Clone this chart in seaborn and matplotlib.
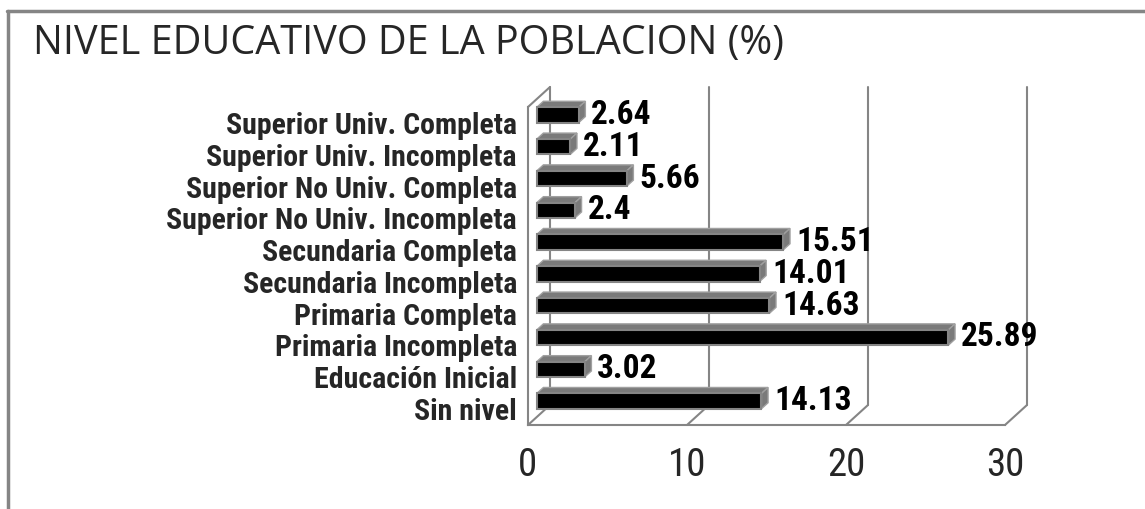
import matplotlib
matplotlib.use("Agg")
import matplotlib.pyplot as plt
import seaborn as sns
from matplotlib import font_manager
from matplotlib.patches import Polygon
from matplotlib.lines import Line2D

categorias = [
    "Superior Univ. Completa",
    "Superior Univ. Incompleta",
    "Superior No Univ. Completa",
    "Superior No Univ. Incompleta",
    "Secundaria Completa",
    "Secundaria Incompleta",
    "Primaria Completa",
    "Primaria Incompleta",
    "Educación Inicial",
    "Sin nivel",
]
porcentajes = [2.64, 2.11, 5.66, 2.4, 15.51, 14.01, 14.63, 25.89, 3.02, 14.13]
etiquetas = ["2.64", "2.11", "5.66", "2.4", "15.51", "14.01", "14.63", "25.89", "3.02", "14.13"]
xticks = [0, 10, 20, 30]
titulo = "NIVEL EDUCATIVO DE LA POBLACION (%)"


def pick_font(names):
    for name in names:
        try:
            font_manager.findfont(font_manager.FontProperties(family=name),
                                  fallback_to_default=False)
            return name
        except ValueError:
            pass
    return "DejaVu Sans"


narrow = pick_font(["Liberation Sans Narrow", "Roboto Condensed", "Liberation Sans"])
title_font = pick_font(["Open Sans", "Lato", "DejaVu Sans"])

sns.set_style("white")
GRAY = "#858585"

fig = plt.figure(figsize=(11.45, 5.09), dpi=100)
ax = fig.add_axes([528 / 1145, 84 / 509, 477 / 1145, 318 / 509])

sns.barplot(x=porcentajes, y=categorias, orient="h", color="black", saturation=1,
            width=0.48, edgecolor=GRAY, linewidth=1.5, ax=ax, zorder=3)
ax.set_xlim(0, 30)
ax.set_ylim(len(categorias) - 0.5, -0.5)

# depth vector of the 3d box, pixels -> data units
p0 = ax.transData.transform((0, 0))
ppx = ax.transData.transform((1, 0))[0] - p0[0]
ppy = ax.transData.transform((0, 1))[1] - p0[1]
DX = 22 / ppx
DY = 20 / ppy

ytop, ybot = -0.5, len(categorias) - 0.5

# back wall gridlines and floor diagonals
for x in xticks:
    ax.plot([x + DX, x + DX], [ybot + DY, ytop + DY], color=GRAY, lw=1.5,
            clip_on=False, zorder=1)
    ax.plot([x, x + DX], [ybot, ybot + DY], color=GRAY, lw=1.5, clip_on=False, zorder=1)
ax.plot([0, DX], [ytop, ytop + DY], color=GRAY, lw=1.5, clip_on=False, zorder=1)

# push bars into the box and give them top / side faces
f1, f2 = 0.4, 0.3
for p in ax.patches:
    p.set_x(p.get_x() + f1 * DX)
    p.set_y(p.get_y() + f1 * DY)
    x0, y0 = p.get_x(), p.get_y()
    x1, h = x0 + p.get_width(), p.get_height()
    ex, ey = f2 * DX, f2 * DY
    top = Polygon([(x0, y0), (x1, y0), (x1 + ex, y0 + ey), (x0 + ex, y0 + ey)],
                  closed=True, facecolor="#7a7a7a", edgecolor="#a0a0a0", lw=1,
                  clip_on=False, zorder=2)
    side = Polygon([(x1, y0), (x1, y0 + h), (x1 + ex, y0 + h + ey), (x1 + ex, y0 + ey)],
                   closed=True, facecolor="#7a7a7a", edgecolor="#a0a0a0", lw=1,
                   clip_on=False, zorder=2)
    ax.add_patch(top)
    ax.add_patch(side)
    p.set_clip_on(False)

ax.bar_label(ax.containers[0], labels=etiquetas, padding=9, fontsize=24,
             fontweight="bold", family=narrow, color="black")

# axes styling
for s in ["top", "right"]:
    ax.spines[s].set_visible(False)
for s in ["left", "bottom"]:
    ax.spines[s].set_color(GRAY)
    ax.spines[s].set_linewidth(1.5)
ax.set_xticks(xticks)
ax.set_xticklabels([str(t) for t in xticks], fontsize=28, family=narrow)
ax.tick_params(axis="x", length=4, width=1.5, color=GRAY, pad=12)
ax.set_yticks(range(len(categorias)))
ax.set_yticklabels(categorias, fontsize=21.5, fontweight="bold", family=narrow)
ax.set_yticks([i - 0.5 for i in range(len(categorias) + 1)], minor=True)
ax.tick_params(axis="y", which="major", length=0, pad=8)
ax.tick_params(axis="y", which="minor", length=5, width=1.5, color=GRAY)
ax.grid(False)
ax.set_xlabel("")
ax.set_ylabel("")

fig.text(33 / 1145, 1 - 54 / 509, titulo, fontsize=28.5, family=title_font,
         va="baseline", ha="left")

# chart area border (cut at right and bottom)
fig.add_artist(Line2D([7 / 1145, 1], [1 - 11 / 509, 1 - 11 / 509], color=GRAY, lw=2.5,
                      transform=fig.transFigure))
fig.add_artist(Line2D([8 / 1145, 8 / 1145], [1 - 11 / 509, 0], color=GRAY, lw=2.5,
                      transform=fig.transFigure))

fig.savefig("out.png", dpi=100)
